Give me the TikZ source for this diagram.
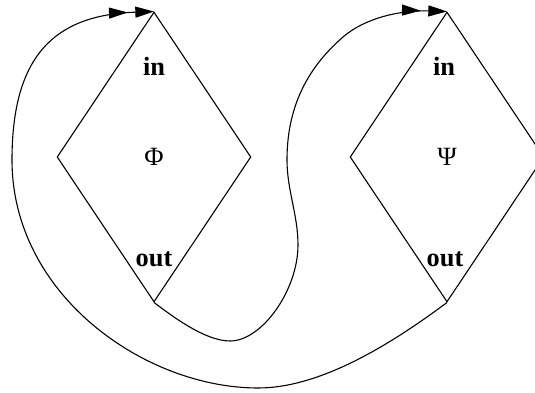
\documentclass[tikz,border=0pt]{standalone}
\usepackage{fontspec}
\setmainfont{Liberation Serif}
\usepackage{tikz}
\usetikzlibrary{positioning,arrows.meta,shapes.geometric}
\tikzset{
  block/.style={draw,diamond,line width=0.5pt,inner sep=0pt,
    minimum width=3.104cm,minimum height=4.64cm,font=\fontsize{12}{14}\selectfont},
  tag/.style={inner sep=0pt,font=\fontsize{12}{14}\selectfont\bfseries},
  flow/.style={line width=0.5pt,
    -{Triangle[length=8.5pt,width=5pt,sep=3.5pt]Triangle[length=8.5pt,width=5pt]}}
}

\begin{document}
\begin{tikzpicture}[x=0.016cm,y=-0.016cm]
  \useasboundingbox (0,0) rectangle (535,393);
  % the two boxes
  \node[block] (phi) at (154,157) {\raisebox{-2pt}{Φ}};
  \node[block] (psi) at (447,157) {\raisebox{-2pt}{Ψ}};
  \path (phi.north) ++(0,55) node[tag] (phiin) {in};
  \path (phi.south) ++(0,-43) node[tag] (phiout) {out};
  \path (psi.north) ++(-3,55) node[tag] (psiin) {in};
  \path (psi.south) ++(-2,-43) node[tag] (psiout) {out};
  % out of phi into psi
  \draw[flow] (phi.south) .. controls (172,316) and (205,341) .. (230,341)
    .. controls (262,341) and (298,290) .. (298,245)
    .. controls (298,215) and (287,190) .. (287,160)
    .. controls (287,110) and (305,70) .. (343,37)
    .. controls (365,18) and (400,10) .. (psi.north);
  % out of psi back into phi
  \draw[flow] (psi.south) .. controls (390,345) and (320,388) .. (258,388)
    .. controls (145,388) and (12,295) .. (12,160)
    .. controls (12,55) and (55,15) .. (phi.north);
\end{tikzpicture}
\end{document}
